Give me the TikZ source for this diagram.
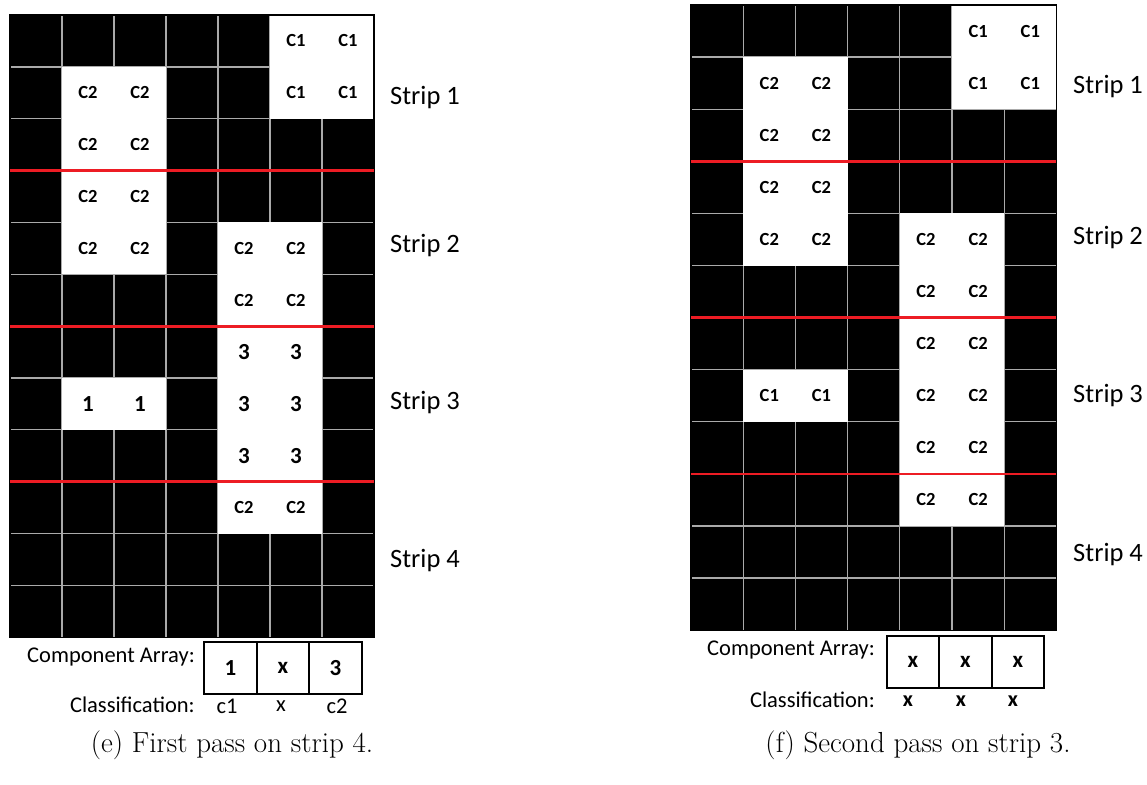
\documentclass[tikz,border=0pt]{standalone}
\usepackage{fontspec}
\newfontfamily\calfont{Carlito}
\definecolor{stripred}{RGB}{237,28,36}
\definecolor{gridgray}{RGB}{170,170,170}
\begin{document}
\begin{tikzpicture}[x=1pt,y=-1pt,
  gridline/.style={draw=gridgray, line width=1.3pt},
  redline/.style={draw=stripred, line width=2.8pt},
  border/.style={draw=black, line width=1.3pt},
  cell/.style={font=\calfont\bfseries\fontsize{18.5}{20}\selectfont, inner sep=0pt},
  num/.style={font=\calfont\bfseries\fontsize{23}{24}\selectfont, inner sep=0pt},
  lbl/.style={font=\calfont\fontsize{22.5}{24}\selectfont, inner sep=0pt},
  clsb/.style={font=\calfont\bfseries\fontsize{22}{24}\selectfont, inner sep=0pt},
  striplbl/.style={font=\calfont\fontsize{26.5}{28}\selectfont, anchor=west, inner sep=0pt},
  captext/.style={font=\fontsize{29}{32}\selectfont, inner sep=0pt},
  arrcell/.style={draw=black, line width=1.8pt, minimum width=52.5pt, minimum height=52pt,
    inner sep=0pt, font=\calfont\bfseries\fontsize{23}{24}\selectfont}]
\useasboundingbox (0,0) rectangle (1147,784);

% ---------------- left grid (e) ----------------
\begin{scope}[shift={(10pt,-15pt)}, x=52pt, y=-51.85pt]
  \fill[black] (0,0) rectangle (7,12);
  \foreach \i in {1,...,6} \draw[gridline] (\i,0) -- (\i,12);
  \foreach \j in {1,...,11} \draw[gridline] (0,\j) -- (7,\j);
  \fill[white] (5,0) rectangle (7,2);
  \fill[white] (1,1) rectangle (3,5);
  \fill[white] (4,4) rectangle (6,10);
  \fill[white] (1,7) rectangle (3,8);
  \draw[border] (0,0) rectangle (7,12);
  \foreach \j in {3,6,9} \draw[redline] (0,\j) -- (7,\j);
  \foreach \c/\r/\t in {5/0/C1,6/0/C1,5/1/C1,6/1/C1,
      1/1/C2,2/1/C2,1/2/C2,2/2/C2,1/3/C2,2/3/C2,1/4/C2,2/4/C2,
      4/4/C2,5/4/C2,4/5/C2,5/5/C2,4/9/C2,5/9/C2}
    \node[cell] (L\c-\r) at (\c+0.5,\r+0.5) {\t};
  \foreach \c/\r/\t in {4/6/3,5/6/3,4/7/3,5/7/3,4/8/3,5/8/3,1/7/1,2/7/1}
    \node[num] (L\c-\r) at (\c+0.5,\r+0.5) {\t};
\end{scope}
\node[striplbl] (Ls1) at (390,98) {Strip 1};
\node[striplbl] (Ls2) at (390,246) {Strip 2};
\node[striplbl] (Ls3) at (390,403) {Strip 3};
\node[striplbl] (Ls4) at (390,561) {Strip 4};

\node[lbl, anchor=east] (Lca) at (195,657) {Component Array:};
\node[lbl, anchor=east] (Lcl) at (195,705) {Classification:};
\node[arrcell] (La1) at (230.5,668) {1};
\node[arrcell] (La2) at (283,668) {x};
\node[arrcell] (La3) at (335.5,668) {3};
\node[lbl] (Lc1) at (227,706) {c1};
\node[lbl] (Lc2) at (281,706) {x};
\node[lbl] (Lc3) at (337,706) {c2};
\node[captext] (Lcap) at (232,745) {(e) First pass on strip 4.};

% ---------------- right grid (f) ----------------
\begin{scope}[shift={(691pt,-5pt)}, x=52.2pt, y=-52.1pt]
  \fill[black] (0,0) rectangle (7,12);
  \foreach \i in {1,...,6} \draw[gridline] (\i,0) -- (\i,12);
  \foreach \j in {1,...,11} \draw[gridline] (0,\j) -- (7,\j);
  \fill[white] (5,0) rectangle (7,2);
  \fill[white] (1,1) rectangle (3,5);
  \fill[white] (4,4) rectangle (6,10);
  \fill[white] (1,7) rectangle (3,8);
  \draw[border] (0,0) rectangle (7,12);
  \foreach \j in {3,6,9} \draw[redline] (0,\j) -- (7,\j);
  \foreach \c/\r/\t in {5/0/C1,6/0/C1,5/1/C1,6/1/C1,1/7/C1,2/7/C1,
      1/1/C2,2/1/C2,1/2/C2,2/2/C2,1/3/C2,2/3/C2,1/4/C2,2/4/C2,
      4/4/C2,5/4/C2,4/5/C2,5/5/C2,4/6/C2,5/6/C2,4/7/C2,5/7/C2,
      4/8/C2,5/8/C2,4/9/C2,5/9/C2}
    \node[cell] (R\c-\r) at (\c+0.5,\r+0.5) {\t};
\end{scope}
\node[striplbl] (Rs1) at (1073,87) {Strip 1};
\node[striplbl] (Rs2) at (1073,238) {Strip 2};
\node[striplbl] (Rs3) at (1073,396) {Strip 3};
\node[striplbl] (Rs4) at (1073,555) {Strip 4};

\node[lbl, anchor=east] (Rca) at (875,650) {Component Array:};
\node[lbl, anchor=east] (Rcl) at (875,700) {Classification:};
\node[arrcell] (Ra1) at (913,662) {x};
\node[arrcell] (Ra2) at (965.5,662) {x};
\node[arrcell] (Ra3) at (1018,662) {x};
\node[clsb] (Rc1) at (908,701) {x};
\node[clsb] (Rc2) at (961,701) {x};
\node[clsb] (Rc3) at (1013,701) {x};
\node[captext] (Rcap) at (918,745) {(f) Second pass on strip 3.};
\end{tikzpicture}
\end{document}
